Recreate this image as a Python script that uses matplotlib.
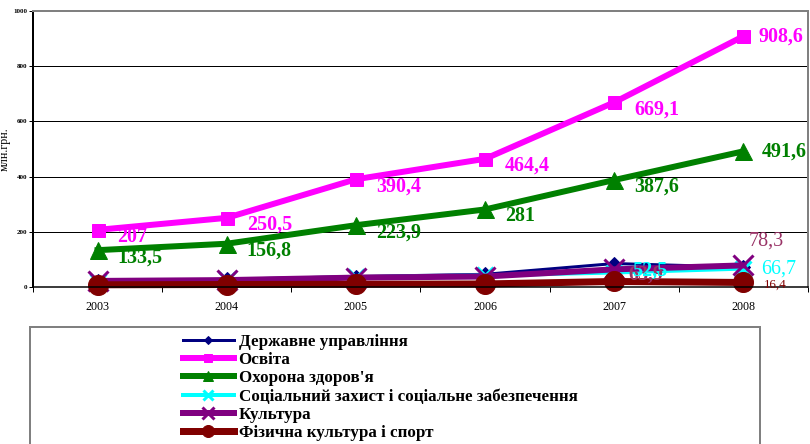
import matplotlib
matplotlib.use("Agg")
from matplotlib import pyplot as plt
from matplotlib.patches import Rectangle

years = ["2003", "2004", "2005", "2006", "2007", "2008"]

derzh_upr = [20, 28, 38, 46, 85, 72]
osvita = [207, 250.5, 390.4, 464.4, 669.1, 908.6]
okhorona = [133.5, 156.8, 223.9, 281, 387.6, 491.6]
soc_zakhyst = [18, 25, 35, 42, 52.5, 66.7]
kultura = [22, 25, 34, 38, 63.9, 78.3]
fiz_kultura = [8, 9, 10, 11, 20, 16.4]

names = [
    "Державне управління",
    "Освіта",
    "Охорона здоров'я",
    "Соціальний захист і соціальне забезпечення",
    "Культура",
    "Фізична культура і спорт",
]

plt.rcParams["font.family"] = ["Liberation Serif", "DejaVu Serif"]

DPI = 72
fig = plt.figure(figsize=(810 / DPI, 444 / DPI), dpi=DPI)
ax = fig.add_axes([33 / 810, 157 / 444, 775 / 810, 276 / 444])

x = list(range(len(years)))

styles = [
    dict(color="#000080", lw=3, marker="D", ms=10),
    dict(color="#FF00FF", lw=6, marker="s", ms=13),
    dict(color="#008000", lw=6, marker="^", ms=17),
    dict(color="#00FFFF", lw=4, marker="x", ms=16, mew=3),
    dict(color="#800080", lw=6, marker="x", ms=20, mew=3),
    dict(color="#800000", lw=7, marker="o", ms=20),
]
series = [derzh_upr, osvita, okhorona, soc_zakhyst, kultura, fiz_kultura]

for vals, name, st in zip(series, names, styles):
    ax.plot(x, vals, label=name, clip_on=False, **st)


def fmt(v):
    return f"{v:g}".replace(".", ",")


# data labels
big = dict(fontsize=20, fontweight="bold")
for i, v in enumerate(osvita):
    dx, dy = (15, 0) if i == len(osvita) - 1 else (20, -7)
    ax.annotate(fmt(v), (x[i], v), xytext=(dx, dy), textcoords="offset points",
                ha="left", va="center", color="#FF00FF", annotation_clip=False, **big)
for i, v in enumerate(okhorona):
    dx, dy = (18, 0) if i == len(okhorona) - 1 else (20, -7)
    ax.annotate(fmt(v), (x[i], v), xytext=(dx, dy), textcoords="offset points",
                ha="left", va="center", color="#008000", annotation_clip=False, **big)

ax.annotate(fmt(kultura[5]), (x[5], kultura[5]), xytext=(5, 24), textcoords="offset points",
            ha="left", va="center", color="#993366", fontsize=20)
ax.annotate(fmt(soc_zakhyst[5]), (x[5], soc_zakhyst[5]), xytext=(18, 0),
            textcoords="offset points", ha="left", va="center", color="#00FFFF", fontsize=20)
ax.annotate(fmt(fiz_kultura[5]), (x[5], fiz_kultura[5]), xytext=(20, -2),
            textcoords="offset points", ha="left", va="center", color="#800000", fontsize=13)
ax.annotate(fmt(kultura[4]), (x[4], kultura[4]), xytext=(14, -5), textcoords="offset points",
            ha="left", va="center", color="#993366", fontsize=20, fontweight="bold")
ax.annotate(fmt(soc_zakhyst[4]), (x[4], soc_zakhyst[4]), xytext=(18, 2),
            textcoords="offset points", ha="left", va="center", color="#00FFFF",
            fontsize=20, fontweight="bold")

ax.set_xlim(-0.5, len(years) - 0.5)
ax.set_ylim(0, 1000)
ax.set_yticks([0, 200, 400, 600, 800, 1000])
ax.set_yticklabels(["0", "200", "400", "600", "800", "1000"], fontsize=7, fontweight="bold")
ax.set_xticks(x)
ax.set_xticklabels(years, fontsize=12)
ax.tick_params(axis="x", which="major", length=0, pad=14)
ax.set_xticks([i - 0.5 for i in range(len(years) + 1)], minor=True)
ax.tick_params(axis="x", which="minor", length=5, width=1, direction="out")
ax.tick_params(axis="y", length=4, width=1, direction="out", pad=2)
ax.set_ylabel("млн.грн.", fontsize=12, labelpad=2)

for yv in [200, 400, 600, 800]:
    ax.axhline(yv, color="black", lw=1, zorder=0)

ax.spines["left"].set_linewidth(2)
ax.spines["bottom"].set_linewidth(1.5)
ax.spines["top"].set_color("#808080")
ax.spines["top"].set_linewidth(2)
ax.spines["right"].set_color("#808080")
ax.spines["right"].set_linewidth(2)

# legend box
fig.patches.append(Rectangle((30 / 810, -0.05), 730 / 810, (117 / 444) + 0.05,
                             transform=fig.transFigure, fill=False,
                             edgecolor="#808080", lw=2))
fig.legend(loc="upper left", bbox_to_anchor=(174 / 810, 1 - 325 / 444),
           frameon=False, prop=dict(size=17, weight="bold"),
           handlelength=3.0, handletextpad=0.3, labelspacing=0.14,
           borderpad=0, numpoints=1, markerscale=0.6)

fig.savefig("out.png", dpi=DPI)
